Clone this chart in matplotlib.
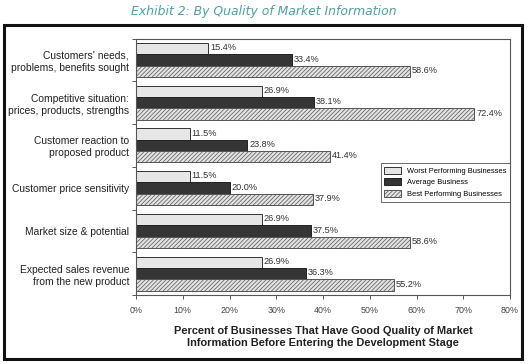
import numpy as np
import matplotlib.pyplot as plt
from matplotlib.patches import Rectangle

# chart data
categories = ["Customers' needs,\nproblems, benefits sought",
              "Competitive situation:\nprices, products, strengths",
              "Customer reaction to\nproposed product",
              "Customer price sensitivity",
              "Market size & potential",
              "Expected sales revenue\nfrom the new product"]
worst   = [15.4, 26.9, 11.5, 11.5, 26.9, 26.9]
average = [33.4, 38.1, 23.8, 20.0, 37.5, 36.3]
best    = [58.6, 72.4, 41.4, 37.9, 58.6, 55.2]
series_names = ["Worst Performing Businesses", "Average Business", "Best Performing Businesses"]
xticks = [0, 10, 20, 30, 40, 50, 60, 70, 80]

plt.rcParams['font.family'] = ['Liberation Sans', 'DejaVu Sans']
plt.rcParams['hatch.linewidth'] = 0.5

fig = plt.figure(figsize=(5.28, 3.64), dpi=100)
fig.patch.set_facecolor('white')

# outer black frame
fig.patches.append(Rectangle((4/528, 5/364), 518/528, 334/364, transform=fig.transFigure,
                             fill=False, edgecolor='#111111', linewidth=2.2))

fig.text(0.5, 0.968, "Exhibit 2: By Quality of Market Information", ha='center', va='center',
         fontsize=8.9, style='italic', color='#4f9fa3', family='DejaVu Sans')

ax = fig.add_axes([136/528, (364-295)/364, 374/528, 256.5/364])

n = len(categories)
y = np.arange(n)
h = 0.267
styles = [dict(color='#e6e6e6', edgecolor='#333333', linewidth=0.7),
          dict(color='#353535', edgecolor='#222222', linewidth=0.7),
          dict(color='#e2e2e2', edgecolor='#555555', linewidth=0.7, hatch='////////')]
for k, (vals, st) in enumerate(zip([worst, average, best], styles)):
    pos = y - h + k * h
    bars = ax.barh(pos, vals, height=h, label=series_names[k], **st)
    for p, v in zip(pos, vals):
        ax.text(v + 0.4, p - 0.02, f"{v:.1f}%", va='center', ha='left', fontsize=6.6, color='#333333')

ax.set_xlim(0, 80)
ax.set_ylim(n - 0.5, -0.5)
ax.set_xticks(xticks)
ax.set_xticklabels([f"{t}%" for t in xticks], fontsize=6.4, color='#444444')
ax.set_yticks(np.arange(n + 1) - 0.5)
ax.set_yticklabels([])
ax.set_yticks(y, minor=True)
ax.set_yticklabels(categories, minor=True, fontsize=7.4, color='#222222', linespacing=1.25)
ax.tick_params(axis='y', which='minor', length=0, pad=5)
ax.tick_params(axis='y', which='major', length=3, color='#555555', width=0.7)
ax.tick_params(axis='x', length=3, color='#555555', width=0.7, pad=5)
for s in ax.spines.values():
    s.set_color('#555555')
    s.set_linewidth(0.8)

ax.set_xlabel("Percent of Businesses That Have Good Quality of Market\nInformation Before Entering the Development Stage",
              fontsize=7.9, fontweight='bold', color='#222222', labelpad=8, linespacing=1.25)

leg = ax.legend(loc='upper right', bbox_to_anchor=(1.0, 0.515), borderaxespad=0, fontsize=5.4,
                frameon=True, fancybox=False, edgecolor='#444444', handlelength=2.2,
                handleheight=1.1, borderpad=0.5, labelspacing=0.45)
leg.get_frame().set_linewidth(0.7)

fig.savefig('out.png', dpi=100, facecolor='white')
